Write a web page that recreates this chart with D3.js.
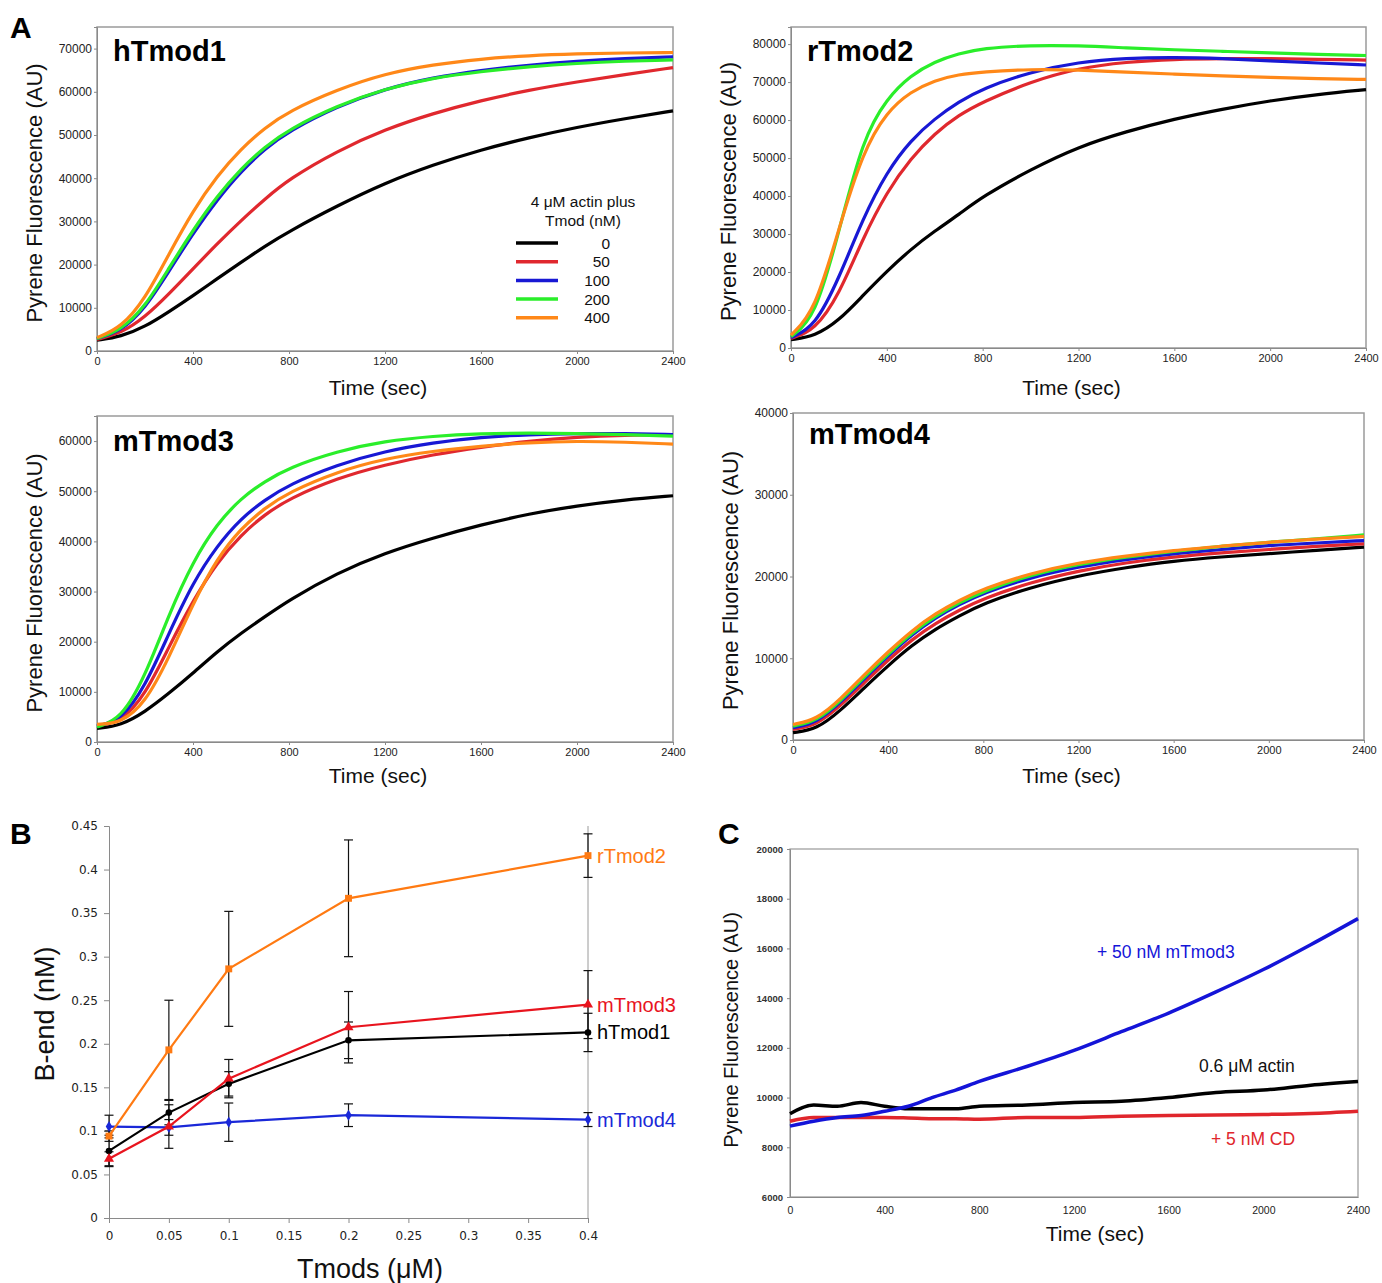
<!DOCTYPE html>
<html>
<head>
<meta charset="utf-8">
<script src="https://cdn.jsdelivr.net/npm/d3@7"></script>
<style>
  body { margin: 0; background: #fff; }
  text { font-family: Arial, "Liberation Sans", sans-serif; }
</style>
</head>
<body>
<svg id="fig" width="1382" height="1283"></svg>
<script>
// ---- data ----
const times = [0, 100, 200, 300, 400, 500, 600, 700, 800, 1000, 1200, 1400, 1600, 1800, 2000, 2200, 2400];
const timeTicks = [0, 400, 800, 1200, 1600, 2000, 2400];
const tmodDoses = ["0", "50", "100", "200", "400"];

// panel A, one array per Tmod dose (0, 50, 100, 200, 400 nM)
const hTmod1 = [
  [2500, 3300, 5600, 9100, 12800, 16700, 20500, 24300, 27700, 33600, 38900, 43100, 46600, 49400, 51800, 53800, 55600],
  [2700, 4100, 7800, 13200, 19000, 24800, 30200, 35200, 39800, 46300, 51300, 55000, 58000, 60400, 62300, 64000, 65600],
  [2900, 4600, 9800, 18500, 27200, 35000, 41600, 46800, 50900, 56600, 60700, 63300, 65000, 66200, 67100, 67700, 68100],
  [2900, 4800, 10200, 19200, 28000, 35800, 42200, 47300, 51300, 56800, 60700, 63200, 64700, 65800, 66600, 67100, 67400],
  [3100, 5400, 12000, 22500, 32500, 40500, 46800, 51700, 55500, 60500, 64200, 66300, 67600, 68400, 68800, 69000, 69100]
];
const rTmod2 = [
  [2200, 3100, 7200, 13800, 20200, 26000, 30800, 35100, 39900, 47000, 53000, 57000, 60300, 62900, 65100, 66800, 68000],
  [2500, 4700, 13900, 28900, 41100, 49900, 56500, 61300, 64800, 70100, 73700, 75300, 76000, 76200, 76200, 76000, 75800],
  [2700, 5600, 18300, 34100, 46400, 54700, 60400, 64800, 68300, 72700, 75300, 76300, 76500, 76200, 75600, 75000, 74500],
  [3000, 7800, 30600, 55200, 65700, 71800, 75400, 77500, 78900, 79700, 79600, 79000, 78500, 78100, 77700, 77300, 77000],
  [3400, 9600, 31500, 51700, 62200, 67500, 70500, 72000, 72700, 73400, 73200, 72600, 72100, 71600, 71200, 70900, 70700]
];
const mTmod3 = [
  [2700, 3300, 6000, 9700, 13700, 18000, 21700, 25000, 28300, 33700, 37700, 40700, 43300, 45500, 47100, 48300, 49100],
  [3200, 4000, 9300, 19000, 28200, 35800, 41300, 45400, 48500, 52600, 55300, 57300, 58800, 60000, 60800, 61200, 61300],
  [3200, 4300, 11000, 21700, 31800, 39100, 44600, 48300, 51300, 55300, 58000, 59700, 60800, 61300, 61500, 61500, 61300],
  [3000, 4600, 13000, 25500, 36000, 43500, 48600, 52000, 54700, 58000, 60000, 61000, 61500, 61600, 61500, 61300, 61000],
  [3500, 3800, 7700, 16800, 27600, 36600, 42600, 46700, 49800, 53900, 56500, 58000, 59000, 59700, 60000, 59800, 59400]
];
const mTmod4 = [
  [900, 1300, 3600, 6400, 9100, 11600, 13600, 15200, 16700, 18700, 20100, 21100, 21900, 22400, 22800, 23200, 23600],
  [1300, 1800, 4200, 7000, 9800, 12300, 14300, 15900, 17300, 19300, 20700, 21700, 22400, 22900, 23300, 23700, 24000],
  [1500, 2100, 4600, 7500, 10300, 12900, 15000, 16600, 18000, 19900, 21200, 22100, 22800, 23300, 23800, 24100, 24400],
  [1700, 2300, 4800, 7700, 10500, 13100, 15200, 16800, 18200, 20200, 21500, 22400, 23100, 23700, 24200, 24600, 25100],
  [1900, 2500, 5000, 8000, 10800, 13400, 15500, 17100, 18500, 20400, 21700, 22500, 23200, 23700, 24200, 24600, 24900]
];

// panel B
const tmodConc = [0, 0.05, 0.1, 0.2, 0.4];
const bXTicks = [0, 0.05, 0.1, 0.15, 0.2, 0.25, 0.3, 0.35, 0.4];
const bYTicks = [0, 0.05, 0.1, 0.15, 0.2, 0.25, 0.3, 0.35, 0.4, 0.45];
const bRTmod2 = [0.094, 0.193, 0.286, 0.367, 0.416];
const bRTmod2Err = [0.006, 0.057, 0.066, 0.067, 0.025];
const bMTmod3 = [0.068, 0.105, 0.160, 0.219, 0.245];
const bMTmod3Err = [0.008, 0.025, 0.022, 0.041, 0.039];
const bHTmod1 = [0.077, 0.121, 0.154, 0.204, 0.213];
const bHTmod1Err = [0.018, 0.014, 0.014, 0.021, 0.022];
const bMTmod4 = [0.105, 0.104, 0.110, 0.118, 0.113];
const bMTmod4Err = [0.013, 0.009, 0.022, 0.013, 0.008];

// panel C
const cYTicks = [6000, 8000, 10000, 12000, 14000, 16000, 18000, 20000];
const cActin = [9350, 9700, 9650, 9800, 9650, 9550, 9550, 9550, 9650, 9700, 9800, 9850, 10000, 10200, 10300, 10500, 10650];
const cMTmod3 = [8850, 9050, 9200, 9280, 9450, 9650, 10000, 10300, 10650, 11250, 11900, 12650, 13400, 14250, 15150, 16150, 17200];
const cCD = [9050, 9200, 9200, 9200, 9200, 9180, 9150, 9150, 9130, 9200, 9200, 9250, 9280, 9300, 9320, 9360, 9450];

const doseColors = ["#000000", "#e0282e", "#1818d4", "#2aee2a", "#ff8818"];

const svg = d3.select("#fig");

function styleAxis(sel, size) {
  sel.select(".domain").attr("stroke", "#8a8a8a");
  sel.selectAll(".tick line").attr("stroke", "#8a8a8a");
  sel.selectAll(".tick text")
    .attr("fill", "#222")
    .style("font-size", size + "px");
}

function yTitle(text, x, y, size) {
  svg.append("text")
    .attr("transform", "translate(" + x + "," + y + ") rotate(-90)")
    .attr("text-anchor", "middle")
    .style("font-size", size + "px")
    .attr("fill", "#111")
    .text(text);
}

function xTitle(text, x, y, size) {
  svg.append("text")
    .attr("x", x)
    .attr("y", y)
    .attr("text-anchor", "middle")
    .style("font-size", size + "px")
    .attr("fill", "#111")
    .text(text);
}

function drawKinetics(p) {
  const x = d3.scaleLinear().domain([0, 2400]).range([p.left, p.right]);
  const y = d3.scaleLinear().domain([0, p.ymax]).range([p.bottom, p.top]);
  const g = svg.append("g");

  g.append("rect")
    .attr("x", p.left)
    .attr("y", p.top)
    .attr("width", p.right - p.left)
    .attr("height", p.bottom - p.top)
    .attr("fill", "none")
    .attr("stroke", "#9a9a9a")
    .attr("stroke-width", 1.5);

  const xa = g.append("g")
    .attr("transform", "translate(0," + p.bottom + ")")
    .call(d3.axisBottom(x).tickValues(timeTicks).tickSize(3).tickPadding(3).tickFormat(d3.format("d")));
  styleAxis(xa, 11);

  const ya = g.append("g")
    .attr("transform", "translate(" + p.left + ",0)")
    .call(d3.axisLeft(y).tickValues(d3.range(0, p.ymax + 1, 10000)).tickSize(3).tickPadding(2).tickFormat(d3.format("d")));
  styleAxis(ya, 12);

  const line = d3.line()
    .x((d, i) => x(times[i]))
    .y(d => y(d))
    .curve(d3.curveBasis);

  g.selectAll("path.trace")
    .data(p.data)
    .enter()
    .append("path")
    .classed("trace", true)
    .attr("d", line)
    .attr("fill", "none")
    .attr("stroke", (d, i) => doseColors[i])
    .attr("stroke-width", 3.2);

  g.append("text")
    .attr("x", p.left + 16)
    .attr("y", p.titleY)
    .style("font-size", "29px")
    .style("font-weight", "bold")
    .attr("fill", "#000")
    .text(p.name);

  yTitle("Pyrene Fluorescence (AU)", p.left - 55, (p.top + p.bottom) / 2 + 4, 22);
  xTitle("Time (sec)", (p.left + p.right) / 2 - 7, p.xTitleY, 21);
}

// ---- panel A ----
drawKinetics({ name: "hTmod1", data: hTmod1, left: 97, right: 673, top: 27, bottom: 351, ymax: 75000, titleY: 61, xTitleY: 395 });
drawKinetics({ name: "rTmod2", data: rTmod2, left: 791, right: 1366, top: 27, bottom: 348, ymax: 84500, titleY: 61, xTitleY: 395 });
drawKinetics({ name: "mTmod3", data: mTmod3, left: 97, right: 673, top: 416, bottom: 742, ymax: 65000, titleY: 451, xTitleY: 783 });
drawKinetics({ name: "mTmod4", data: mTmod4, left: 793, right: 1364, top: 413, bottom: 740, ymax: 40000, titleY: 444, xTitleY: 783 });

// legend inside hTmod1
const legend = svg.append("g");
legend.append("text").attr("x", 583).attr("y", 207).attr("text-anchor", "middle")
  .style("font-size", "15.5px").attr("fill", "#111").text("4 \u03bcM actin plus");
legend.append("text").attr("x", 583).attr("y", 226).attr("text-anchor", "middle")
  .style("font-size", "15.5px").attr("fill", "#111").text("Tmod (nM)");
tmodDoses.forEach((d, i) => {
  const ly = 243 + i * 18.7;
  legend.append("line")
    .attr("x1", 516).attr("x2", 558).attr("y1", ly).attr("y2", ly)
    .attr("stroke", doseColors[i]).attr("stroke-width", 3.5);
  legend.append("text")
    .attr("x", 610).attr("y", ly + 5.5).attr("text-anchor", "end")
    .style("font-size", "15.5px").attr("fill", "#111").text(d);
});

// ---- panel B ----
function drawB() {
  const x = d3.scaleLinear().domain([0, 0.4]).range([109, 588]);
  const y = d3.scaleLinear().domain([0, 0.45]).range([1218, 826]);
  const g = svg.append("g");
  const fmt = d => String(+d.toFixed(2));

  const xa = g.append("g")
    .attr("transform", "translate(0,1218)")
    .call(d3.axisBottom(x).tickValues(bXTicks).tickSize(5).tickPadding(8).tickFormat(fmt));
  styleAxis(xa, 12);
  xa.selectAll(".tick text").style("font-family", "'DejaVu Sans', Verdana, sans-serif");

  const ya = g.append("g")
    .attr("transform", "translate(109,0)")
    .call(d3.axisLeft(y).tickValues(bYTicks).tickSize(5).tickPadding(6).tickFormat(fmt));
  styleAxis(ya, 12);
  ya.selectAll(".tick text").style("font-family", "'DejaVu Sans', Verdana, sans-serif");

  // right side line at 0.4
  g.append("line")
    .attr("x1", x(0.4)).attr("x2", x(0.4))
    .attr("y1", y(0.45)).attr("y2", y(0))
    .attr("stroke", "#9a9a9a").attr("stroke-width", 1);

  const series = [
    { name: "mTmod4", vals: bMTmod4, err: bMTmod4Err, color: "#1a28d8", sym: d3.symbolDiamond, size: 36 },
    { name: "hTmod1", vals: bHTmod1, err: bHTmod1Err, color: "#000000", sym: d3.symbolCircle, size: 34 },
    { name: "mTmod3", vals: bMTmod3, err: bMTmod3Err, color: "#e8141e", sym: d3.symbolTriangle, size: 44 },
    { name: "rTmod2", vals: bRTmod2, err: bRTmod2Err, color: "#ff7a12", sym: d3.symbolSquare, size: 48 }
  ];

  // error bars
  series.forEach(s => {
    s.vals.forEach((v, i) => {
      const cx = x(tmodConc[i]);
      g.append("line").attr("x1", cx).attr("x2", cx)
        .attr("y1", y(v - s.err[i])).attr("y2", y(v + s.err[i]))
        .attr("stroke", "#111").attr("stroke-width", 1.2);
      [v - s.err[i], v + s.err[i]].forEach(e => {
        g.append("line").attr("x1", cx - 4.5).attr("x2", cx + 4.5)
          .attr("y1", y(e)).attr("y2", y(e))
          .attr("stroke", "#111").attr("stroke-width", 1.2);
      });
    });
  });

  const line = d3.line().x((d, i) => x(tmodConc[i])).y(d => y(d));
  series.forEach(s => {
    g.append("path")
      .attr("d", line(s.vals))
      .attr("fill", "none")
      .attr("stroke", s.color)
      .attr("stroke-width", 2.2);
    g.selectAll(null)
      .data(s.vals)
      .enter()
      .append("path")
      .attr("d", d3.symbol().type(s.sym).size(s.size))
      .attr("transform", (d, i) => "translate(" + x(tmodConc[i]) + "," + y(d) + ")")
      .attr("fill", s.color);
    g.append("text")
      .attr("x", x(0.4) + 9)
      .attr("y", y(s.vals[s.vals.length - 1]) + 7)
      .style("font-size", "20px")
      .attr("fill", s.color)
      .text(s.name);
  });

  yTitle("B-end (nM)", 54, 1014, 27);
  xTitle("Tmods (\u03bcM)", 370, 1278, 27);
}
drawB();

// ---- panel C ----
function drawC() {
  const x = d3.scaleLinear().domain([0, 2400]).range([790, 1358]);
  const y = d3.scaleLinear().domain([6000, 20000]).range([1197, 849]);
  const g = svg.append("g");

  g.append("rect")
    .attr("x", 790).attr("y", 849)
    .attr("width", 1358 - 790).attr("height", 1197 - 849)
    .attr("fill", "none").attr("stroke", "#a0a0a0").attr("stroke-width", 1.3);

  const xa = g.append("g")
    .attr("transform", "translate(0,1197)")
    .call(d3.axisBottom(x).tickValues(timeTicks).tickSize(0).tickPadding(10).tickFormat(d3.format("d")));
  styleAxis(xa, 10.5);

  const ya = g.append("g")
    .attr("transform", "translate(790,0)")
    .call(d3.axisLeft(y).tickValues(cYTicks).tickSize(3).tickPadding(4).tickFormat(d3.format("d")));
  styleAxis(ya, 9.5);
  ya.selectAll(".tick text").style("font-weight", "bold").attr("fill", "#333");

  const line = d3.line()
    .x((d, i) => x(times[i]))
    .y(d => y(d))
    .curve(d3.curveMonotoneX);

  const traces = [
    { vals: cCD, color: "#e0262c" },
    { vals: cActin, color: "#000000" },
    { vals: cMTmod3, color: "#1414d8" }
  ];
  traces.forEach(t => {
    g.append("path")
      .attr("d", line(t.vals))
      .attr("fill", "none")
      .attr("stroke", t.color)
      .attr("stroke-width", 3.5);
  });

  g.append("text").attr("x", 1097).attr("y", 958).style("font-size", "17.5px")
    .attr("fill", "#1414d8").text("+ 50 nM mTmod3");
  g.append("text").attr("x", 1199).attr("y", 1072).style("font-size", "17.5px")
    .attr("fill", "#111").text("0.6 \u03bcM actin");
  g.append("text").attr("x", 1211).attr("y", 1145).style("font-size", "17.5px")
    .attr("fill", "#e0262c").text("+ 5 nM CD");

  yTitle("Pyrene Fluorescence (AU)", 738, 1030, 20);
  xTitle("Time (sec)", 1095, 1241, 21);
}
drawC();

// panel letters
[["A", 10, 38], ["B", 10, 844], ["C", 718, 844]].forEach(l => {
  svg.append("text")
    .attr("x", l[1]).attr("y", l[2])
    .style("font-size", "30px")
    .style("font-weight", "bold")
    .attr("fill", "#000")
    .text(l[0]);
});
</script>
</body>
</html>
